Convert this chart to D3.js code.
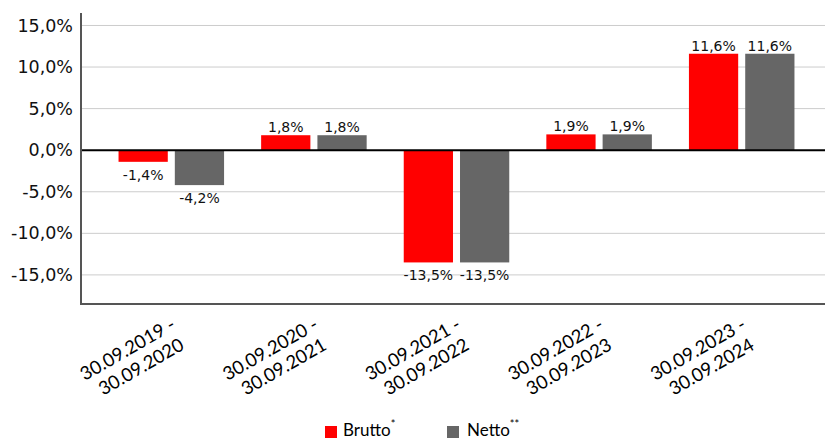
<!DOCTYPE html>
<html><head><meta charset="utf-8">
<script src="https://cdn.jsdelivr.net/npm/d3@7"></script>
<style>body{margin:0;background:#fff}svg{display:block}</style>
</head><body>
<svg id="c" width="825" height="440"></svg>
<script>
const categories = [["30.09.2019 -","30.09.2020"],["30.09.2020 -","30.09.2021"],["30.09.2021 -","30.09.2022"],["30.09.2022 -","30.09.2023"],["30.09.2023 -","30.09.2024"]];
const brutto = [-1.4, 1.8, -13.5, 1.9, 11.6];
const netto = [-4.2, 1.8, -13.5, 1.9, 11.6];
const seriesNames = ["Brutto", "Netto"];
const seriesSup = ["*", "**"];
const colors = ["#ff0000", "#666666"];
const yTicks = [-15, -10, -5, 0, 5, 10, 15];

(function(){
const svg = d3.select("#c");
const pL = 81, pR = 825, pT = 13, pB = 304;
const y = d3.scaleLinear().domain([-18.5, 16.5]).range([pB, pT]);
const x = d3.scaleBand().domain(d3.range(categories.length)).range([100, 813]).paddingInner(0.26).paddingOuter(0.13);
const xi = d3.scaleBand().domain([0,1]).range([0, x.bandwidth()]).paddingInner(0.125);
const fmt = v => (v.toFixed(1) + "%").replace(".", ",");

svg.append("g").selectAll("line").data(yTicks.filter(t => t !== 0)).join("line")
  .attr("x1", pL).attr("x2", pR).attr("y1", d => y(d)).attr("y2", d => y(d))
  .attr("stroke", "#cccccc").attr("stroke-width", 1);

const yAxis = d3.axisLeft(y).tickValues(yTicks).tickSize(0).tickPadding(8).tickFormat(fmt);
const ga = svg.append("g").attr("transform", `translate(${pL},0)`).call(yAxis);
ga.select(".domain").remove();
ga.selectAll("text").attr("font-family", "DejaVu Sans").attr("font-size", 17.5).attr("fill", "#111");

const data = [brutto, netto];
data.forEach((vals, si) => {
  svg.append("g").selectAll("rect").data(vals).join("rect")
    .attr("x", (d, i) => x(i) + xi(si))
    .attr("width", xi.bandwidth())
    .attr("y", d => y(Math.max(0, d)))
    .attr("height", d => Math.abs(y(d) - y(0)))
    .attr("fill", colors[si]);
  svg.append("g").selectAll("text").data(vals).join("text")
    .attr("x", (d, i) => x(i) + xi(si) + xi.bandwidth() / 2)
    .attr("y", d => d >= 0 ? y(d) - 3 : y(d) + 18)
    .attr("text-anchor", "middle")
    .attr("font-family", "DejaVu Sans").attr("font-size", 14).attr("fill", "#111")
    .text(d => fmt(d));
});

svg.append("line").attr("x1", pL).attr("x2", pR).attr("y1", y(0)).attr("y2", y(0))
  .attr("stroke", "#000").attr("stroke-width", 2);
svg.append("line").attr("x1", pL).attr("x2", pL).attr("y1", pT).attr("y2", pB)
  .attr("stroke", "#555").attr("stroke-width", 2);
svg.append("line").attr("x1", pL - 1).attr("x2", pR).attr("y1", pB).attr("y2", pB)
  .attr("stroke", "#555").attr("stroke-width", 2);

const xl = svg.append("g").selectAll("g").data(categories).join("g")
  .attr("transform", (d, i) => `translate(${x(i) + x.bandwidth() / 2 + 5.5},${pB + 24}) rotate(-30)`);
xl.each(function(d) {
  const t = d3.select(this).append("text").attr("text-anchor", "end")
    .attr("font-family", "Lato").attr("font-size", 18.5).attr("fill", "#000");
  d.forEach((line, k) => t.append("tspan").attr("x", k === 0 ? 0 : -3).attr("dy", k === 0 ? 0 : 22).text(line));
});

const lx = [325, 447];
seriesNames.forEach((n, i) => {
  svg.append("rect").attr("x", lx[i]).attr("y", 426).attr("width", 12).attr("height", 12).attr("fill", colors[i]);
  const t = svg.append("text").attr("x", lx[i] + 18 + i * 2).attr("y", 436)
    .attr("font-family", "Lato").attr("font-size", 17).attr("fill", "#000");
  t.append("tspan").text(n);
  t.append("tspan").attr("dy", -8).attr("font-size", 11).text(seriesSup[i]);
});
})();
</script>
</body></html>
